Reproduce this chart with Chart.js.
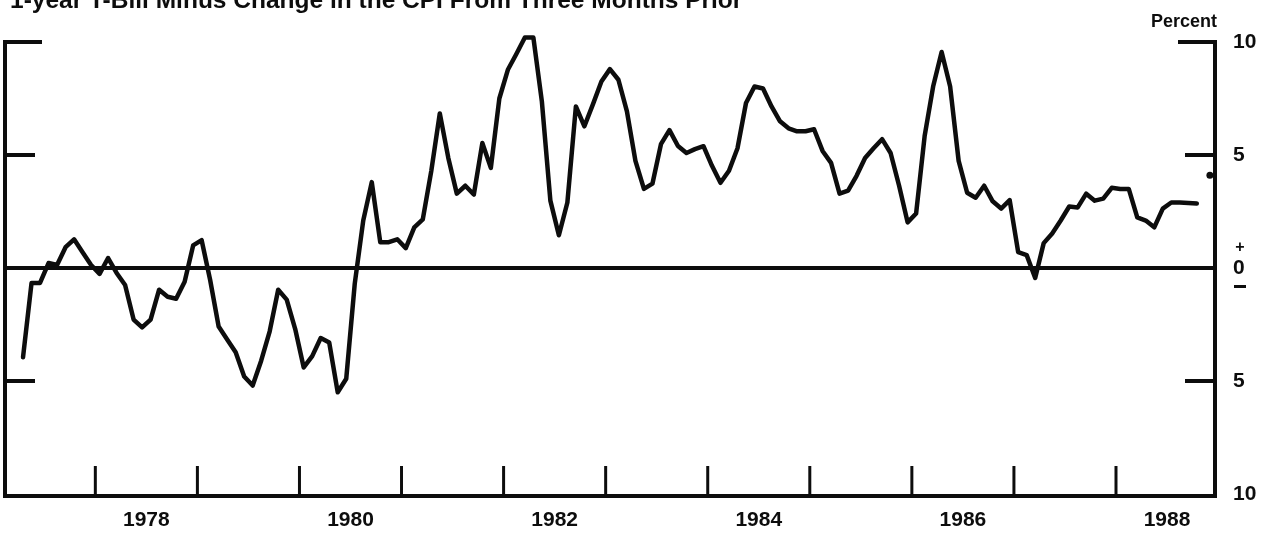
<!DOCTYPE html>
<html>
<head>
<meta charset="utf-8">
<script src="https://cdn.jsdelivr.net/npm/chart.js@4.4.0/dist/chart.umd.min.js"></script>
<style>
  html, body { margin: 0; padding: 0; background: #fff; }
  #wrap { width: 1270px; height: 535px; }
</style>
</head>
<body>
<div id="wrap"><canvas id="chart" width="1270" height="535"></canvas></div>
<script>
// 1-year T-Bill minus 3-month change in CPI, monthly, Apr 1977 - Oct 1988
const startYear = 1977;
const startMonth = 4;
const spread = [
  -3.95, -0.66, -0.66, 0.22, 0.13, 0.92, 1.27, 0.70, 0.13, -0.26, 0.44, -0.22,
  -0.75, -2.28, -2.63, -2.28, -0.96, -1.27, -1.36, -0.61, 1.00, 1.23, -0.53, -2.59,
  -3.16, -3.73, -4.80, -5.20, -4.10, -2.80, -0.96, -1.40, -2.70, -4.40, -3.90, -3.10,
  -3.30, -5.50, -4.90, -0.70, 2.10, 3.80, 1.14, 1.14, 1.27, 0.88, 1.80, 2.15,
  4.30, 6.84, 4.87, 3.29, 3.64, 3.25, 5.53, 4.43, 7.50, 8.77, 9.47, 10.20,
  10.20, 7.37, 2.98, 1.45, 2.90, 7.15, 6.27, 7.24, 8.25, 8.80, 8.33, 6.93,
  4.74, 3.50, 3.73, 5.48, 6.10, 5.40, 5.09, 5.26, 5.39, 4.52, 3.77, 4.30,
  5.30, 7.30, 8.03, 7.94, 7.15, 6.49, 6.18, 6.05, 6.05, 6.14, 5.18, 4.65,
  3.29, 3.42, 4.08, 4.87, 5.30, 5.70, 5.09, 3.64, 2.02, 2.41, 5.83, 8.03,
  9.56, 8.03, 4.74, 3.33, 3.11, 3.64, 2.95, 2.63, 3.00, 0.70, 0.57, -0.44,
  1.10, 1.53, 2.10, 2.72, 2.68, 3.29, 2.98, 3.07, 3.55, 3.50, 3.50, 2.24,
  2.10, 1.80, 2.63, 2.90, 2.90, 2.88, 2.85
];

// the stray dot next to the right axis
const markerYear = [1988.92];
const markerValue = [4.1];

const tickYears = [1978, 1979, 1980, 1981, 1982, 1983, 1984, 1985, 1986, 1987, 1988];
const labelYears = [1978, 1980, 1982, 1984, 1986, 1988];
const yTicks = [-10, -5, 0, 5, 10];
const sideTicks = [10, 5, -5];

const titleText = '1-year T-Bill Minus Change in the CPI From Three Months Prior';
const unitText = 'Percent';

const FONT = '"Liberation Sans", Arial, sans-serif';
const INK = '#0d0d0d';

const points = spread.map((v, i) => ({
  x: startYear + (startMonth - 1 + i + 0.5) / 12,
  y: v
}));
const markerPoints = markerValue.map((v, i) => ({ x: markerYear[i], y: v }));

// frame, tick marks, zero line and the loose texts
const framePlugin = {
  id: 'frame',
  beforeDatasetsDraw(chart) {
    const { ctx, chartArea: a, scales: { x, y } } = chart;
    ctx.save();
    ctx.strokeStyle = INK;
    ctx.lineCap = 'butt';

    // outer frame: left, right, bottom
    ctx.lineWidth = 4;
    ctx.beginPath();
    ctx.moveTo(a.left, y.getPixelForValue(10) - 2);
    ctx.lineTo(a.left, a.bottom + 2);
    ctx.lineTo(a.right, a.bottom + 2);
    ctx.lineTo(a.right, y.getPixelForValue(10) - 2);
    ctx.stroke();

    // side ticks
    sideTicks.forEach(v => {
      const py = y.getPixelForValue(v);
      const len = v === 10 ? 37 : 30;
      ctx.beginPath();
      ctx.moveTo(a.left, py);
      ctx.lineTo(a.left + len, py);
      ctx.moveTo(a.right, py);
      ctx.lineTo(a.right - len, py);
      ctx.stroke();
    });

    // zero line
    const py0 = y.getPixelForValue(0);
    ctx.lineWidth = 4;
    ctx.beginPath();
    ctx.moveTo(a.left, py0);
    ctx.lineTo(a.right, py0);
    ctx.stroke();

    // year boundary ticks
    ctx.lineWidth = 3;
    tickYears.forEach(yr => {
      const px = x.getPixelForValue(yr);
      ctx.beginPath();
      ctx.moveTo(px, a.bottom - 28);
      ctx.lineTo(px, a.bottom + 2);
      ctx.stroke();
    });

    // title, clipped at the top edge
    ctx.fillStyle = INK;
    ctx.font = 'bold 24.5px ' + FONT;
    ctx.textAlign = 'left';
    ctx.textBaseline = 'alphabetic';
    ctx.fillText(titleText, 10, 8);

    // unit label
    ctx.font = 'bold 18px ' + FONT;
    ctx.textAlign = 'right';
    ctx.fillText(unitText, 1217, 27);

    // plus / minus around the zero label
    ctx.font = 'bold 16px ' + FONT;
    ctx.textAlign = 'center';
    ctx.textBaseline = 'middle';
    ctx.fillText('+', 1240, py0 - 20);
    ctx.fillRect(1234, py0 + 17, 12, 3);
    ctx.restore();
  }
};

new Chart(document.getElementById('chart'), {
  type: 'line',
  data: {
    datasets: [{
      data: points,
      borderColor: INK,
      borderWidth: 4.5,
      borderJoinStyle: 'round',
      borderCapStyle: 'round',
      pointRadius: 0,
      tension: 0,
      fill: false,
      clip: false
    }, {
      data: markerPoints,
      showLine: false,
      pointRadius: 3.5,
      pointBackgroundColor: INK,
      pointBorderWidth: 0,
      clip: false
    }]
  },
  options: {
    responsive: false,
    animation: false,
    devicePixelRatio: 1,
    layout: { padding: { top: 42, left: 5, right: 0, bottom: 0 } },
    plugins: {
      legend: { display: false },
      tooltip: { enabled: false }
    },
    scales: {
      x: {
        type: 'linear',
        min: 1977.115,
        max: 1988.97,
        grid: { display: false, drawTicks: false },
        border: { display: false },
        afterBuildTicks: scale => {
          scale.ticks = labelYears.map(yr => ({ value: yr + 0.5 }));
        },
        afterFit: scale => { scale.height = 41; },
        ticks: {
          autoSkip: false,
          maxRotation: 0,
          padding: 14,
          color: INK,
          font: { family: FONT, size: 21, weight: 'bold' },
          callback: v => String(Math.floor(v))
        }
      },
      y: {
        position: 'right',
        min: -10,
        max: 10,
        grid: { display: false, drawTicks: false },
        border: { display: false },
        afterBuildTicks: scale => {
          scale.ticks = yTicks.map(v => ({ value: v }));
        },
        afterFit: scale => { scale.width = 55; },
        ticks: {
          padding: 18,
          color: INK,
          font: { family: FONT, size: 21, weight: 'bold' },
          callback: v => String(Math.abs(v))
        }
      }
    }
  },
  plugins: [framePlugin]
});
</script>
</body>
</html>
